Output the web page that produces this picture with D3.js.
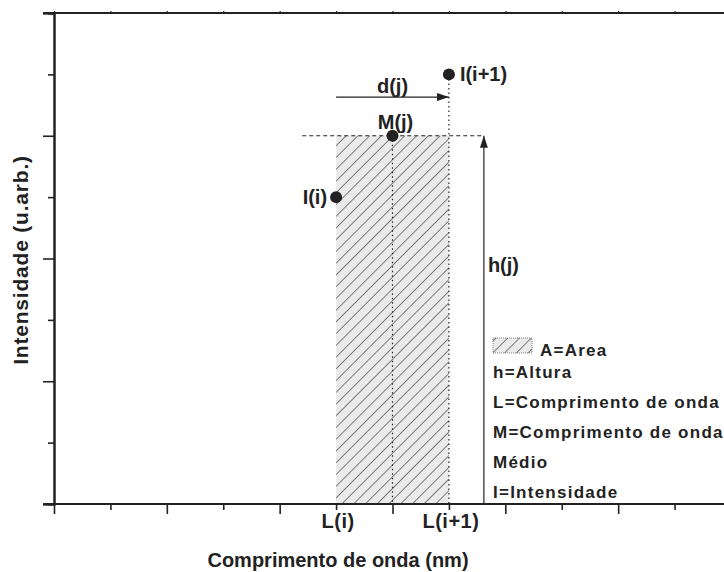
<!DOCTYPE html>
<html>
<head>
<meta charset="utf-8">
<script src="https://cdn.jsdelivr.net/npm/d3@7"></script>
<style>
  body { margin: 0; background: #fff; }
  text { font-family: "Liberation Sans", Arial, sans-serif; font-weight: bold; fill: #222; }
</style>
</head>
<body>
<script>
  // axis ticks
  const xTicks = [0, 1, 2, 3, 4, 5, 6, 7, 8, 9, 10, 11, 12];
  const yTicks = [0, 1, 2, 3, 4, 5, 6, 7, 8];
  const xTickLabels = [{ x: 5, label: "L(i)" }, { x: 7, label: "L(i+1)" }];

  // points
  const pointNames = ["I(i)", "M(j)", "I(i+1)"];
  const pointX = [5, 6, 7];
  const pointY = [5, 6, 7];

  // area (hatched bar)
  const areaX = [5, 7];
  const areaH = 6;

  // guides
  const dashedX = [4.4, 7.6];
  const dArrow = { x0: 5, x1: 7, y: 6.63 };
  const hArrow = { x: 7.62, y0: 0, y1: 6 };

  const legendLines = ["h=Altura", "L=Comprimento de onda", "M=Comprimento de onda", "Médio", "I=Intensidade"];

  const w = 724, h = 572;
  const pLeft = 54, pTop = 13, pBottom = 504, pRight = 731;
  const ink = "#222";

  const svg = d3.select("body").append("svg").attr("width", w).attr("height", h);

  const x = d3.scaleLinear().domain([0, 12]).range([pLeft, pRight]);
  const y = d3.scaleLinear().domain([0, 8]).range([pBottom, pTop]);

  // hatch pattern
  const defs = svg.append("defs");
  const pat = defs.append("pattern")
    .attr("id", "hatch")
    .attr("patternUnits", "userSpaceOnUse")
    .attr("width", 8.3).attr("height", 8.3)
    .attr("patternTransform", "rotate(45)");
  pat.append("rect").attr("width", 8.3).attr("height", 8.3).attr("fill", "#eaeaea");
  pat.append("line").attr("x1", 0).attr("y1", 0).attr("x2", 0).attr("y2", 8.3)
    .attr("stroke", ink).attr("stroke-width", 1.1);

  defs.append("marker")
    .attr("id", "arrow")
    .attr("viewBox", "0 0 12 8")
    .attr("refX", 12).attr("refY", 4)
    .attr("markerWidth", 12).attr("markerHeight", 8)
    .attr("markerUnits", "userSpaceOnUse")
    .attr("orient", "auto")
    .append("path").attr("d", "M0,0L12,4L0,8Z").attr("fill", ink);

  // hatched area
  svg.append("rect")
    .attr("x", x(areaX[0]))
    .attr("y", y(areaH))
    .attr("width", x(areaX[1]) - x(areaX[0]))
    .attr("height", y(0) - y(areaH))
    .attr("fill", "url(#hatch)");

  // dotted verticals
  svg.append("line")
    .attr("x1", x(pointX[1])).attr("x2", x(pointX[1]))
    .attr("y1", y(pointY[1])).attr("y2", y(0))
    .attr("stroke", ink).attr("stroke-width", 1.2).attr("stroke-dasharray", "1.5,3");
  svg.append("line")
    .attr("x1", x(pointX[2])).attr("x2", x(pointX[2]))
    .attr("y1", y(pointY[2])).attr("y2", y(0))
    .attr("stroke", ink).attr("stroke-width", 1.2).attr("stroke-dasharray", "1.5,3");

  // dashed horizontal
  svg.append("line")
    .attr("x1", x(dashedX[0])).attr("x2", x(dashedX[1]))
    .attr("y1", y(areaH)).attr("y2", y(areaH))
    .attr("stroke", ink).attr("stroke-width", 1.2).attr("stroke-dasharray", "4,3");

  // arrows
  svg.append("line")
    .attr("x1", x(dArrow.x0)).attr("x2", x(dArrow.x1))
    .attr("y1", y(dArrow.y)).attr("y2", y(dArrow.y))
    .attr("stroke", ink).attr("stroke-width", 1.2)
    .attr("marker-end", "url(#arrow)");
  svg.append("line")
    .attr("x1", x(hArrow.x)).attr("x2", x(hArrow.x))
    .attr("y1", y(hArrow.y0)).attr("y2", y(hArrow.y1))
    .attr("stroke", ink).attr("stroke-width", 1.2)
    .attr("marker-end", "url(#arrow)");

  // axes
  const yAxisMajor = d3.axisLeft(y).tickValues(yTicks.filter((d) => d % 2 === 0)).tickSize(11).tickFormat("");
  const yAxisMinor = d3.axisLeft(y).tickValues(yTicks.filter((d) => d % 2 === 1)).tickSize(6).tickFormat("");
  [yAxisMajor, yAxisMinor].forEach((ax) => {
    svg.append("g").attr("transform", "translate(" + pLeft + ",0)").call(ax)
      .call((g) => g.select(".domain").attr("stroke", ink).attr("stroke-width", 2))
      .call((g) => g.selectAll(".tick line").attr("stroke", ink).attr("stroke-width", 1.6));
  });

  const xAxisMajor = d3.axisBottom(x).tickValues(xTicks.filter((d) => d % 2 === 0)).tickSize(10).tickSizeOuter(0).tickFormat("");
  const xAxisMinor = d3.axisBottom(x).tickValues(xTicks.filter((d) => d % 2 === 1)).tickSize(6).tickSizeOuter(0).tickFormat("");
  [xAxisMajor, xAxisMinor].forEach((ax) => {
    svg.append("g").attr("transform", "translate(0," + pBottom + ")").call(ax)
      .call((g) => g.select(".domain").remove())
      .call((g) => g.selectAll(".tick line").attr("stroke", ink).attr("stroke-width", 1.6));
  });
  svg.append("line").attr("x1", pLeft - 11).attr("x2", w).attr("y1", pBottom).attr("y2", pBottom)
    .attr("stroke", ink).attr("stroke-width", 2);

  // top axis
  const topAxis = d3.axisTop(x).tickValues(xTicks).tickSize(2).tickSizeOuter(0).tickFormat("");
  svg.append("g").attr("transform", "translate(0," + pTop + ")").call(topAxis)
    .call((g) => g.select(".domain").remove())
    .call((g) => g.selectAll(".tick line").attr("stroke", ink).attr("stroke-width", 1.2));
  svg.append("line").attr("x1", pLeft - 11).attr("x2", w).attr("y1", pTop).attr("y2", pTop)
    .attr("stroke", ink).attr("stroke-width", 2);

  // tick labels
  svg.selectAll(".xlab").data(xTickLabels).enter().append("text")
    .attr("x", (d) => x(d.x) + 2).attr("y", 528)
    .attr("text-anchor", "middle").style("font-size", "20px")
    .style("letter-spacing", "0.5px")
    .text((d) => d.label);

  // axis titles
  svg.append("text").attr("x", 338).attr("y", 567)
    .attr("text-anchor", "middle").style("font-size", "20px")
    .text("Comprimento de onda (nm)");
  svg.append("text")
    .attr("transform", "translate(28,260) rotate(-90)")
    .attr("text-anchor", "middle").style("font-size", "21px")
    .style("letter-spacing", "0.8px")
    .text("Intensidade (u.arb.)");

  // points
  svg.selectAll(".pt").data(pointNames).enter().append("circle")
    .attr("cx", (d, i) => x(pointX[i])).attr("cy", (d, i) => y(pointY[i]))
    .attr("r", 6).attr("fill", ink);

  // point labels
  const lab = (t, px, py, anchor) =>
    svg.append("text").attr("x", px).attr("y", py).attr("text-anchor", anchor)
      .style("font-size", "20px").text(t);
  lab(pointNames[0], x(pointX[0]) - 9, y(pointY[0]) + 7, "end");
  lab(pointNames[1], x(pointX[1]) + 3, y(pointY[1]) - 7, "middle");
  lab(pointNames[2], x(pointX[2]) + 11, y(pointY[2]) + 7, "start");
  lab("d(j)", (x(dArrow.x0) + x(dArrow.x1)) / 2, y(dArrow.y) - 4, "middle");
  lab("h(j)", x(hArrow.x) + 4, 272, "start");

  // legend
  const lg = svg.append("g").attr("transform", "translate(493,0)");
  lg.append("rect").attr("x", 0).attr("y", 338).attr("width", 39).attr("height", 15)
    .attr("fill", "url(#hatch)").attr("stroke", "#666").attr("stroke-width", 0.8)
    .attr("stroke-dasharray", "1,1");
  lg.append("text").attr("x", 47).attr("y", 356).style("font-size", "17px")
    .style("letter-spacing", "1.25px").text("A=Area");
  lg.selectAll(".lgl").data(legendLines).enter().append("text")
    .attr("x", 0).attr("y", (d, i) => 378 + i * 30)
    .style("font-size", "17px").style("letter-spacing", "1.25px")
    .text((d) => d);
</script>
</body>
</html>
